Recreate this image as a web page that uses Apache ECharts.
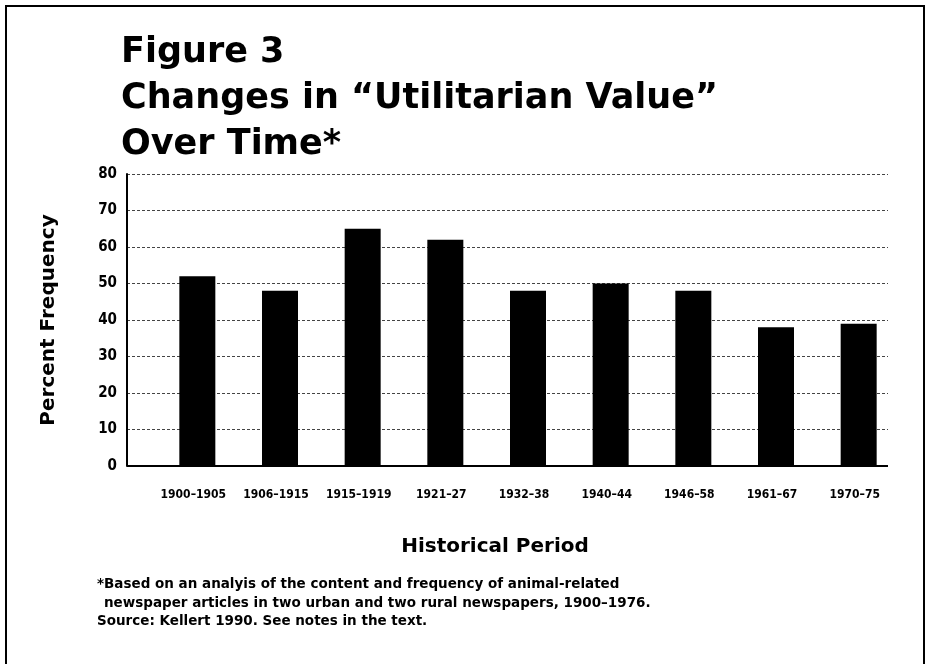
<!DOCTYPE html>
<html><head><meta charset="utf-8">
<script src="https://cdn.jsdelivr.net/npm/echarts@6/dist/echarts.min.js"></script>
<style>html,body{margin:0;padding:0;background:#fff}#c{width:930px;height:664px}</style>
</head><body><div id="c"></div>
<script>
const periods = ['1900–1905','1906–1915','1915–1919','1921–27','1932–38','1940–44','1946–58','1961–67','1970–75'];
const utilitarian = [52, 48, 65, 62, 48, 50, 48, 38, 39];
const yTicks = [0, 10, 20, 30, 40, 50, 60, 70, 80];

const chart = echarts.init(document.getElementById('c'));
const wide = '"DejaVu Sans", sans-serif';
const narrow = '"Liberation Sans Narrow", "DejaVu Sans Condensed", "Liberation Sans", sans-serif';
chart.setOption({
  animation: false,
  backgroundColor: '#fff',
  title: {
    text: 'Figure 3\nChanges in “Utilitarian Value”\nOver Time*',
    left: 116, top: 25,
    textStyle: { fontFamily: wide, fontSize: 35, fontWeight: 'bold', color: '#000', lineHeight: 46 }
  },
  grid: [
    { left: 127, right: 42, top: 174, bottom: 198 },
    { left: 152, right: 34, top: 174, bottom: 198 },
    { left: 156, right: 30, top: 174, bottom: 198 }
  ],
  xAxis: [
    { type: 'category', gridIndex: 0, data: periods, show: false },
    { type: 'category', gridIndex: 1, data: periods,
      axisLine: { show: false }, axisTick: { show: false },
      axisLabel: { interval: 0, margin: 23, fontFamily: narrow, fontSize: 12, fontWeight: 'bold', color: '#000' }
    },
    { type: 'category', gridIndex: 2, data: periods, show: false }
  ],
  yAxis: [
    { type: 'value', gridIndex: 0, min: yTicks[0], max: yTicks[yTicks.length - 1], interval: 10,
      axisLine: { show: true, lineStyle: { color: '#000', width: 2 } },
      axisTick: { show: false },
      axisLabel: { margin: 10, fontFamily: narrow, fontSize: 15, fontWeight: 'bold', color: '#000' },
      splitLine: { show: true, lineStyle: { color: '#444', type: [3, 2], width: 1 } },
      name: 'Percent Frequency', nameLocation: 'middle', nameGap: 68, nameRotate: 90,
      nameTextStyle: { fontFamily: wide, fontSize: 20, fontWeight: 'bold', color: '#000' }
    },
    { type: 'value', gridIndex: 1, min: 0, max: 80, interval: 10, show: false, splitLine: { show: false } },
    { type: 'value', gridIndex: 2, min: 0, max: 80, interval: 10, show: false, splitLine: { show: false } }
  ],
  series: [
    { type: 'bar', xAxisIndex: 2, yAxisIndex: 2, data: utilitarian, barWidth: 36,
      itemStyle: { color: '#000' } }
  ],
  graphic: [
    { type: 'rect', shape: { x: 6, y: 6, width: 918, height: 670 }, style: { fill: 'none', stroke: '#000', lineWidth: 2 }, silent: true },
    { type: 'line', shape: { x1: 127, y1: 466, x2: 888, y2: 466 }, style: { stroke: '#000', lineWidth: 2 }, z: 10 },
    { type: 'text', x: 495, y: 547, style: { text: 'Historical Period', align: 'center', verticalAlign: 'middle', font: 'bold 20px "DejaVu Sans", sans-serif', fill: '#000' } },
    { type: 'text', x: 97, y: 584, style: { text: '*Based on an analyis of the content and frequency of animal-related', verticalAlign: 'middle', font: 'bold 13.5px "DejaVu Sans", sans-serif', fill: '#000' } },
    { type: 'text', x: 104, y: 603, style: { text: 'newspaper articles in two urban and two rural newspapers, 1900–1976.', verticalAlign: 'middle', font: 'bold 13.5px "DejaVu Sans", sans-serif', fill: '#000' } },
    { type: 'text', x: 97, y: 621, style: { text: 'Source: Kellert 1990. See notes in the text.', verticalAlign: 'middle', font: 'bold 13.5px "DejaVu Sans", sans-serif', fill: '#000' } }
  ]
});
</script></body></html>
